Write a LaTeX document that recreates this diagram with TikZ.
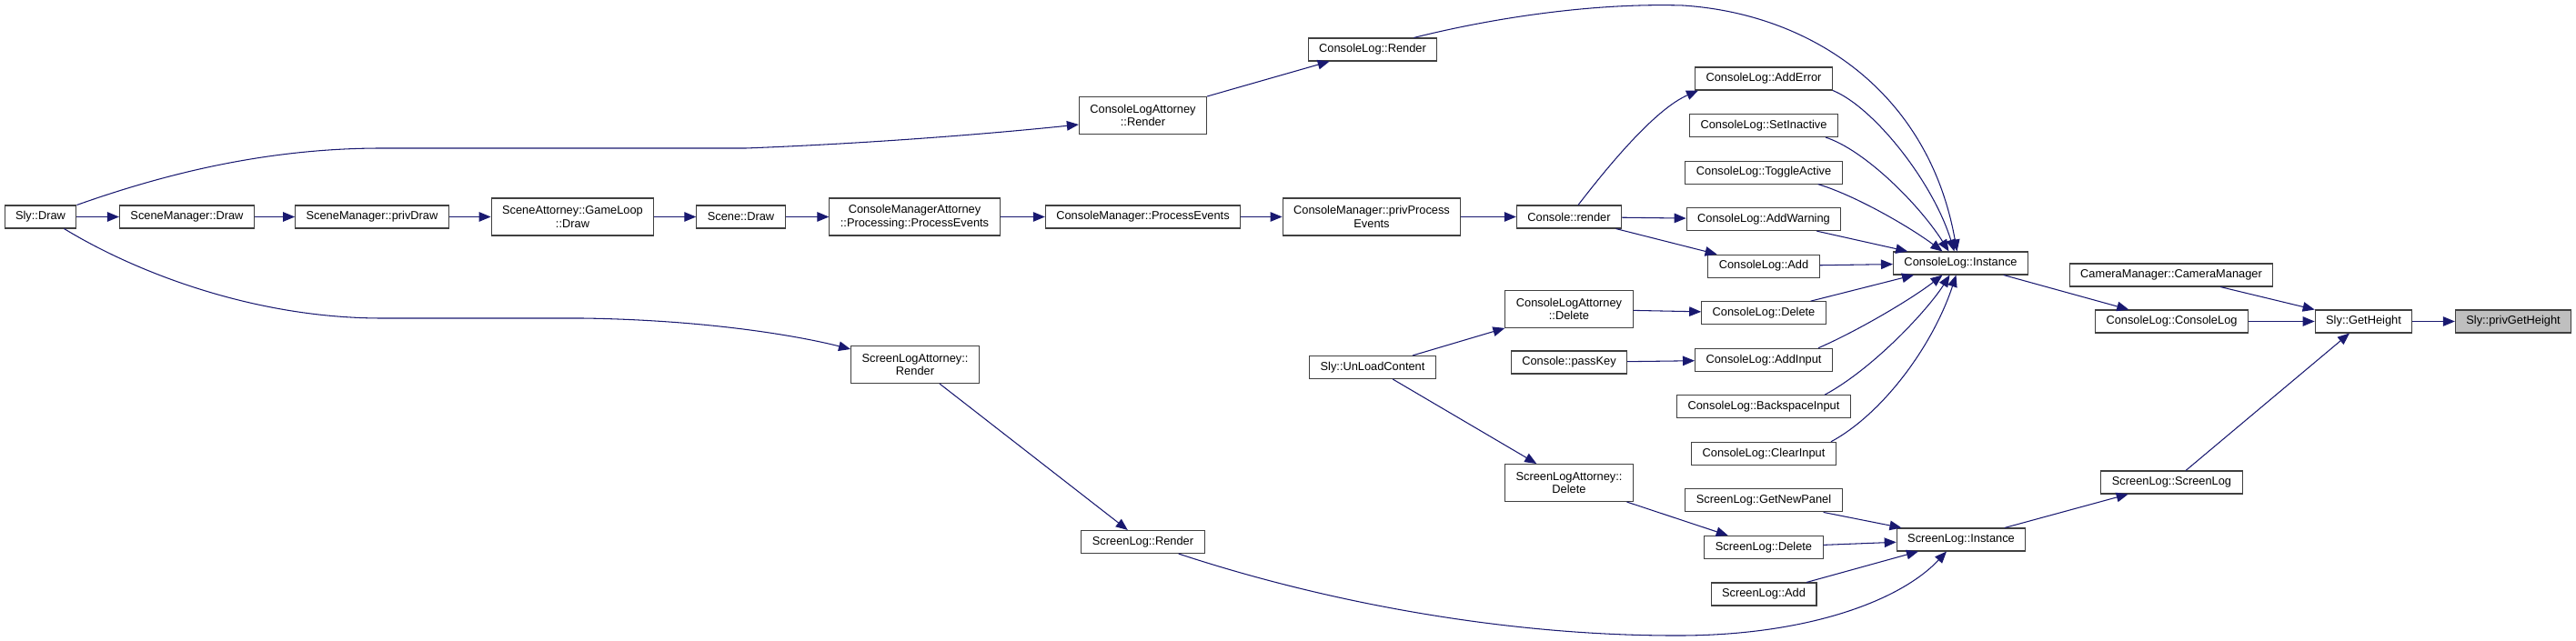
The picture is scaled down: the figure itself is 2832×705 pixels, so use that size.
\documentclass[tikz,border=0pt]{standalone}
\usepackage{fontspec}
\setmainfont{Liberation Sans}
\usetikzlibrary{positioning, arrows.meta, calc}
\definecolor{edgeblue}{HTML}{191970}
\definecolor{nodeline}{HTML}{404040}
\definecolor{targetgrey}{HTML}{BFBFBF}
\newcommand{\fnfont}{\fontsize{7.3}{8.3}\selectfont}

\begin{document}
\begin{tikzpicture}[
        x=0.02cm, y=-0.02cm,
        node distance=0.51cm,
        fn/.style={rectangle, draw=nodeline, line width=0.6pt, fill=white,
            minimum height=0.5cm, inner xsep=0.24cm, inner ysep=1pt,
            font=\fnfont, align=center},
        fntwo/.style={fn, minimum height=0.82cm},
        target/.style={fn, fill=targetgrey},
        arrow/.style={-{Triangle[length=7.4pt, width=6pt]}, draw=edgeblue, line width=0.6pt},
        ]
        \useasboundingbox (0,0) rectangle (2832,705);

        % Draw chain
        \node[fn] (slydraw) at (44.5,238.5) {Sly::Draw};
        \node[fn] (smdraw) at (205.5,238.5) {SceneManager::Draw};
        \node[fn] (smprivdraw) at (409,238.5) {SceneManager::privDraw};
        \node[fntwo] (saloop) at (629.5,238.5) {SceneAttorney::GameLoop\\::Draw};
        \node[fn] (scenedraw) at (814.5,238.5) {Scene::Draw};
        \node[fntwo] (cmaproc) at (1005.5,238.5) {ConsoleManagerAttorney\\::Processing::ProcessEvents};
        \node[fn] (cmproc) at (1256.5,238.5) {ConsoleManager::ProcessEvents};
        \node[fntwo] (cmpriv) at (1508,238.5) {ConsoleManager::privProcess\\Events};
        \node[fn] (conrender) at (1725,238.5) {Console::render};

        % Render branch
        \node[fntwo] (clattrender) at (1256.5,127) {ConsoleLogAttorney\\::Render};
        \node[fn] (clrender) at (1509,54.5) {ConsoleLog::Render};
        \node[fntwo] (slattrrender) at (1006,401) {ScreenLogAttorney::\\Render};
        \node[fn] (slrender) at (1256.5,596) {ScreenLog::Render};

        % Unload branch
        \node[fn] (unload) at (1509,404) {Sly::UnLoadContent};
        \node[fntwo] (clattrdel) at (1725,340) {ConsoleLogAttorney\\::Delete};
        \node[fn] (passkey) at (1725,398.5) {Console::passKey};
        \node[fntwo] (slattrdel) at (1725,531) {ScreenLogAttorney::\\Delete};

        % Log functions column
        \node[fn] (cladderror) at (1939,86.5) {ConsoleLog::AddError};
        \node[fn, below=of cladderror] (clsetinactive) {ConsoleLog::SetInactive};
        \node[fn, below=of clsetinactive] (cltoggle) {ConsoleLog::ToggleActive};
        \node[fn, below=of cltoggle] (claddwarning) {ConsoleLog::AddWarning};
        \node[fn, below=of claddwarning] (cladd) {ConsoleLog::Add};
        \node[fn, below=of cladd] (cldelete) {ConsoleLog::Delete};
        \node[fn, below=of cldelete] (claddinput) {ConsoleLog::AddInput};
        \node[fn, below=of claddinput] (clbackspace) {ConsoleLog::BackspaceInput};
        \node[fn, below=of clbackspace] (clclear) {ConsoleLog::ClearInput};
        \node[fn, below=of clclear] (slnewpanel) {ScreenLog::GetNewPanel};
        \node[fn, below=of slnewpanel] (sldelete) {ScreenLog::Delete};
        \node[fn, below=of sldelete] (sladd) {ScreenLog::Add};

        % Instances and constructors
        \node[fn] (clinstance) at (2155.5,289.5) {ConsoleLog::Instance};
        \node[fn] (slinstance) at (2156,593.5) {ScreenLog::Instance};
        \node[fn] (camera) at (2387,302.5) {CameraManager::CameraManager};
        \node[fn] (clctor) at (2387.5,353.5) {ConsoleLog::ConsoleLog};
        \node[fn] (slctor) at (2387.5,530.5) {ScreenLog::ScreenLog};
        \node[fn] (getheight) at (2598.5,353.5) {Sly::GetHeight};
        \node[target] (privgetheight) at (2763,353.5) {Sly::privGetHeight};

        % Draw chain edges
        \draw[arrow] (slydraw) -- (smdraw);
        \draw[arrow] (smdraw) -- (smprivdraw);
        \draw[arrow] (smprivdraw) -- (saloop);
        \draw[arrow] (saloop) -- (scenedraw);
        \draw[arrow] (scenedraw) -- (cmaproc);
        \draw[arrow] (cmaproc) -- (cmproc);
        \draw[arrow] (cmproc) -- (cmpriv);
        \draw[arrow] (cmpriv) -- (conrender);

        % Long curves from Sly::Draw
        \draw[arrow] (slydraw.north east) .. controls (190,188) and (300,163) .. (420,163)
            -- (820,163) .. controls (950,158) and (1080,148) .. ($(clattrender.west)+(0,10)$);
        \draw[arrow] ($(slydraw.south east)+(-14,0)$) .. controls (150,300) and (280,350) .. (420,350)
            -- (640,350) .. controls (780,352) and (880,370) .. ($(slattrrender.west)+(0,-17)$);

        % Render edges
        \draw[arrow] (clattrender.north east) -- ($(clrender.south west)+(24,0)$);
        \draw[arrow] ($(clrender.north east)+(-26,0)$) .. controls (1640,20) and (1750,3) .. (1850,6)
            .. controls (1990,15) and (2120,100) .. ($(clinstance.north)+(-4,0)$);
        \draw[arrow] (slattrrender) -- (slrender);
        \draw[arrow] ($(slrender.south east)+(-29,0)$) .. controls (1450,660) and (1650,700) .. (1850,699)
            .. controls (1990,698) and (2090,660) .. ($(slinstance.south)+(-16,0)$);

        % Console::render
        \draw[arrow] ($(conrender.north)+(10,0)$) .. controls (1770,180) and (1820,120) .. ($(cladderror.south west)+(4,0)$);
        \draw[arrow] (conrender) -- (claddwarning);
        \draw[arrow] (conrender) -- (cladd);

        % Unload and passKey
        \draw[arrow] (unload) -- (clattrdel);
        \draw[arrow] (unload) -- (slattrdel);
        \draw[arrow] (clattrdel) -- (cldelete);
        \draw[arrow] (passkey) -- (claddinput);
        \draw[arrow] (slattrdel) -- (sldelete);

        % Into ConsoleLog::Instance
        \draw[arrow] (cladderror.south east) .. controls (2060,118) and (2125,200) .. ($(clinstance.north)+(-7,0)$);
        \draw[arrow] ($(clsetinactive.south east)+(-14,0)$) .. controls (2050,165) and (2110,225) .. ($(clinstance.north)+(-13,0)$);
        \draw[arrow] ($(cltoggle.south east)+(-27,0)$) .. controls (2040,215) and (2100,250) .. ($(clinstance.north)+(-20,0)$);
        \draw[arrow] (claddwarning) -- (clinstance);
        \draw[arrow] (cladd) -- (clinstance);
        \draw[arrow] (cldelete) -- (clinstance);
        \draw[arrow] ($(claddinput.north east)+(-16,0)$) .. controls (2040,365) and (2100,330) .. ($(clinstance.south)+(-20,0)$);
        \draw[arrow] ($(clbackspace.north east)+(-29,0)$) .. controls (2060,405) and (2120,340) .. ($(clinstance.south)+(-12,0)$);
        \draw[arrow] ($(clclear.north east)+(-6,0)$) .. controls (2070,455) and (2125,380) .. ($(clinstance.south)+(-5,0)$);

        % Into ScreenLog::Instance
        \draw[arrow] (slnewpanel) -- (slinstance);
        \draw[arrow] (sldelete) -- (slinstance);
        \draw[arrow] (sladd) -- (slinstance);

        % Up to Sly::GetHeight
        \draw[arrow] (clinstance) -- (clctor);
        \draw[arrow] (slinstance) -- (slctor);
        \draw[arrow] (camera) -- (getheight);
        \draw[arrow] (clctor) -- (getheight);
        \draw[arrow] (slctor) -- (getheight);
        \draw[arrow] (getheight) -- (privgetheight);
    \end{tikzpicture}
\end{document}
